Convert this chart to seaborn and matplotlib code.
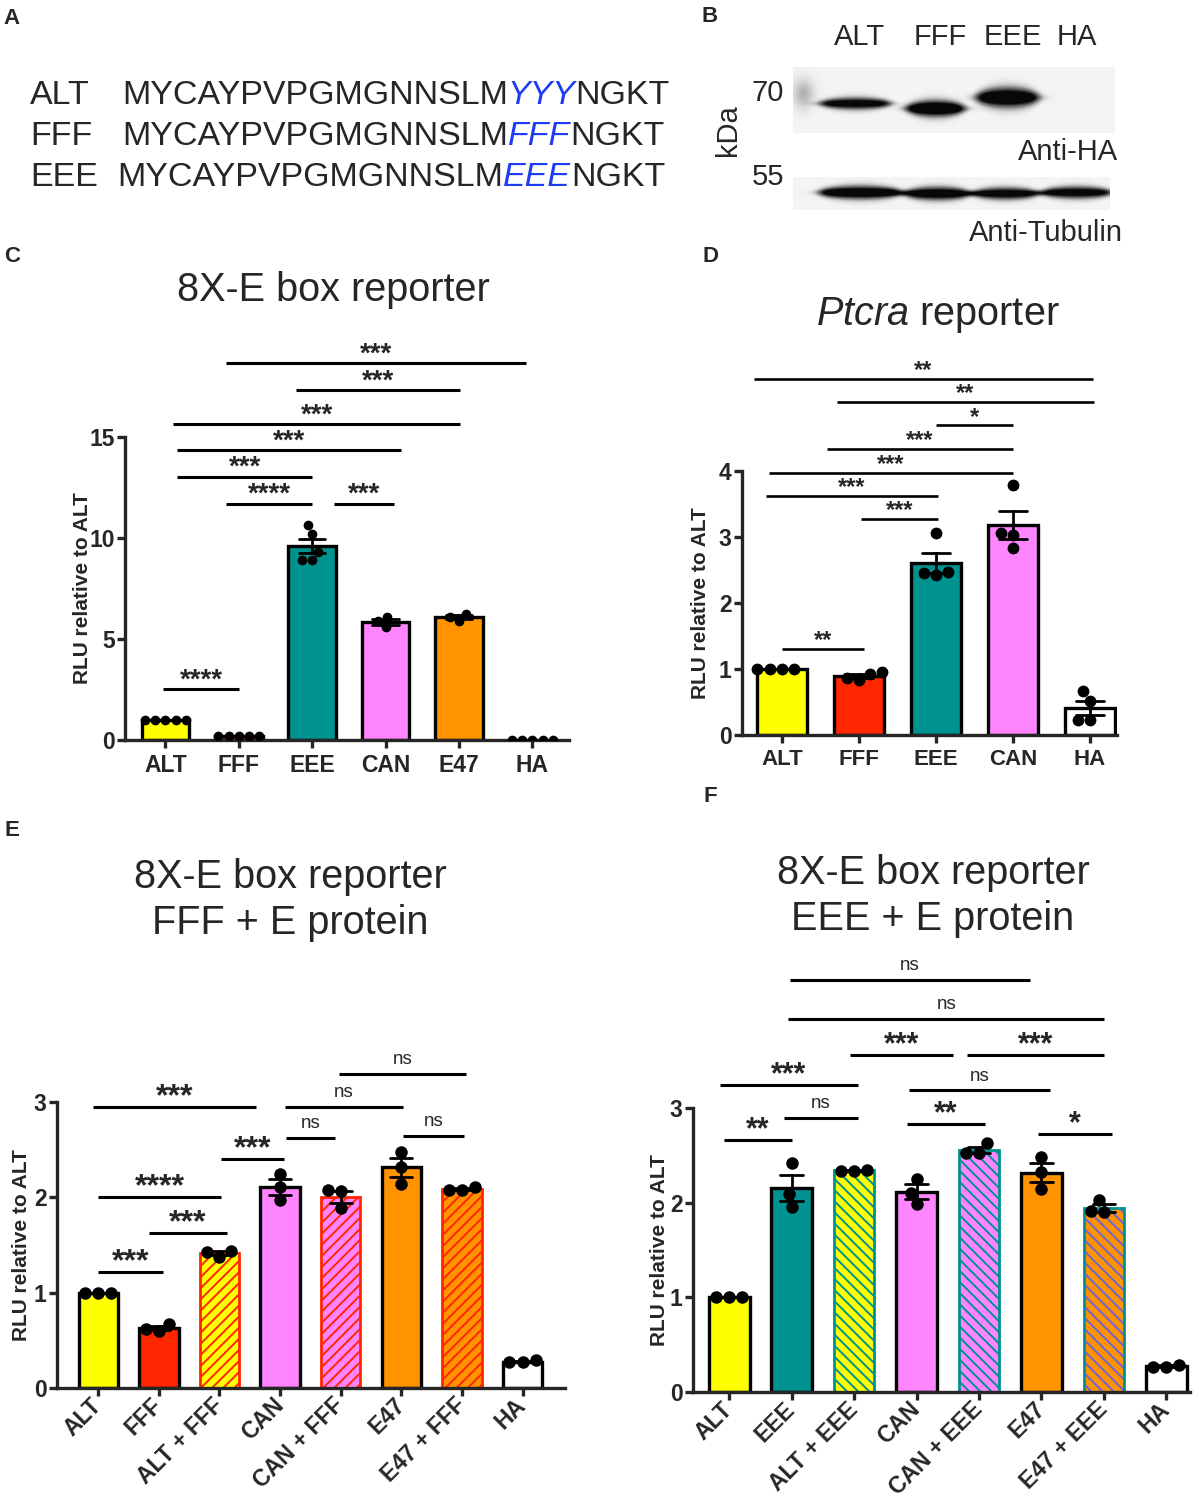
import numpy as np
import pandas as pd
import seaborn as sns
import matplotlib.pyplot as plt
from matplotlib.patches import Rectangle

W, H = 1199, 1502

# ---- panel B: blot band strengths (ALT, FFF, EEE, HA) ----
blot_lanes = ['ALT', 'FFF', 'EEE', 'HA']
anti_ha_strength = [1.05, 1.25, 1.2, 0.0]
tubulin_strength = [1.15, 1.1, 1.05, 1.05]

# ---- panel C ----
c_groups = ['ALT', 'FFF', 'EEE', 'CAN', 'E47', 'HA']
c_points = [
    [1.0, 1.0, 1.0, 1.0, 1.0],
    [0.21, 0.19, 0.20, 0.22, 0.20],
    [10.65, 10.22, 8.93, 9.33, 8.93],
    [6.10, 5.57, 5.90],
    [5.90, 6.26, 6.09],
    [0.02, 0.01, 0.02, 0.01, 0.02],
]
c_colors = ['#FFFF00', '#FF2600', '#00928F', '#FF85FF', '#FF9300', '#FFFFFF']
c_sig = [
    (0.83, 4.91, 18.64, '***'),
    (1.78, 4.01, 17.31, '***'),
    (0.11, 4.02, 15.63, '***'),
    (0.16, 3.21, 14.34, '***'),
    (0.16, 2.00, 13.04, '***'),
    (0.83, 2.00, 11.70, '****'),
    (2.30, 3.12, 11.70, '***'),
    (-0.03, 1.00, 2.52, '****'),
]

# ---- panel D ----
d_groups = ['ALT', 'FFF', 'EEE', 'CAN', 'HA']
d_points = [
    [1.0, 1.0, 1.0, 1.0],
    [0.84, 0.95, 0.87, 0.92],
    [3.06, 2.43, 2.47, 2.45],
    [3.79, 3.06, 3.03, 2.84],
    [0.51, 0.66, 0.23, 0.23],
]
d_colors = ['#FFFF00', '#FF2600', '#00928F', '#FF85FF', '#FFFFFF']
d_sig = [
    (-0.37, 4.04, 5.40, '**'),
    (0.71, 4.05, 5.05, '**'),
    (2.00, 3.00, 4.69, '*'),
    (0.58, 3.00, 4.34, '***'),
    (-0.17, 3.00, 3.97, '***'),
    (-0.21, 2.03, 3.62, '***'),
    (1.02, 2.03, 3.27, '***'),
    (0.00, 1.06, 1.31, '**'),
]

# ---- panel E ----
e_groups = ['ALT', 'FFF', 'ALT + FFF', 'CAN', 'CAN + FFF', 'E47', 'E47 + FFF', 'HA']
e_points = [
    [1.0, 1.0, 1.0],
    [0.593, 0.673, 0.617],
    [1.378, 1.440, 1.423],
    [2.25, 2.11, 1.97],
    [2.075, 2.065, 1.883],
    [2.476, 2.320, 2.145],
    [2.075, 2.110, 2.075],
    [0.269, 0.290, 0.269],
]
e_colors = ['#FFFF00', '#FF2600', '#FFFF00', '#FF85FF', '#FF85FF', '#FF9300', '#FF9300', '#FFFFFF']
e_hatch = {2: '#FF2600', 4: '#FF2600', 6: '#FF2600'}
e_sig = [
    (-0.09, 2.60, 2.947, '***'),
    (3.08, 5.03, 2.947, 'ns'),
    (3.98, 6.07, 3.296, 'ns'),
    (3.10, 3.90, 2.626, 'ns'),
    (5.03, 6.03, 2.647, 'ns'),
    (2.03, 3.06, 2.40, '***'),
    (0.00, 2.02, 2.006, '****'),
    (0.83, 2.12, 1.622, '***'),
    (0.00, 1.07, 1.221, '***'),
]

# ---- panel F ----
f_groups = ['ALT', 'EEE', 'ALT + EEE', 'CAN', 'CAN + EEE', 'E47', 'E47 + EEE', 'HA']
f_points = [
    [1.0, 1.0, 1.0],
    [2.415, 2.087, 1.957],
    [2.337, 2.348, 2.337],
    [2.255, 2.106, 1.987],
    [2.523, 2.628, 2.523],
    [2.479, 2.329, 2.143],
    [1.900, 2.024, 1.912],
    [0.268, 0.287, 0.268],
]
f_colors = ['#FFFF00', '#00928F', '#FFFF00', '#FF85FF', '#FF85FF', '#FF9300', '#FF9300', '#FFFFFF']
f_hatch = {2: '#00928F', 4: '#00928F', 6: '#6F63D8'}
f_sig = [
    (0.97, 4.82, 4.353, 'ns'),
    (0.94, 6.01, 3.943, 'ns'),
    (1.94, 3.58, 3.559, '***'),
    (3.81, 6.00, 3.559, '***'),
    (-0.15, 2.06, 3.243, '***'),
    (0.87, 2.06, 2.896, 'ns'),
    (-0.09, 1.01, 2.665, '**'),
    (2.88, 5.14, 3.187, 'ns'),
    (2.84, 4.10, 2.833, '**'),
    (4.94, 6.13, 2.721, '*'),
]

sns.set_theme(style='ticks')
plt.rcParams['font.family'] = ['Liberation Sans', 'DejaVu Sans']
plt.rcParams['mathtext.fontset'] = 'custom'
plt.rcParams['mathtext.rm'] = 'Liberation Sans'
plt.rcParams['mathtext.it'] = 'Liberation Sans:italic'
plt.rcParams['hatch.linewidth'] = 1.4
plt.rcParams['ytick.labelsize'] = 16.5
plt.rcParams['xtick.labelsize'] = 16.5

fig = plt.figure(figsize=(W / 100, H / 100), dpi=100)


def px_axes(x0, y_top, x1, y_bot):
    return fig.add_axes([x0 / W, 1 - y_bot / H, (x1 - x0) / W, (y_bot - y_top) / H])


def ftext(x, y, s, **kw):
    return fig.text(x / W, 1 - y / H, s, **kw)


def bar_panel(ax, groups, points, colors, dot_size, xlim, yticks, label_x,
              hatch=None, hatch_style='///', edge=None, rotate=False):
    df = pd.DataFrame({'group': np.repeat(groups, [len(p) for p in points]),
                       'value': np.concatenate(points)})
    sns.barplot(data=df, x='group', y='value', hue='group', order=groups, hue_order=groups,
                palette=dict(zip(groups, colors)), saturation=1, errorbar='se', capsize=0.36,
                err_kws={'color': 'black', 'linewidth': 2.0}, width=0.65,
                edgecolor='black', linewidth=2.4, legend=False, ax=ax)
    if hatch:
        bars = list(ax.patches)
        for i, col in hatch.items():
            p = bars[i]
            p.set_hatch(hatch_style)
            p.set_edgecolor(col)
            p.set_linewidth(0)
            ax.add_patch(Rectangle((p.get_x(), p.get_y()), p.get_width(), p.get_height(),
                                   fill=False, edgecolor=edge, linewidth=2.0, zorder=1.5))
    sns.swarmplot(data=df, x='group', y='value', order=groups, color='black',
                  size=dot_size, ax=ax, zorder=4)
    ax.set_xlim(*xlim)
    ax.set_ylim(yticks[0], yticks[-1])
    ax.set_yticks(yticks, labels=[str(t) for t in yticks])
    ax.set_xticks(range(len(groups)))
    if rotate:
        ax.set_xticklabels(groups, rotation=45, ha='right', va='center',
                           rotation_mode='anchor')
    else:
        ax.set_xticklabels(groups)
    sns.despine(ax=ax)
    for s in ['left', 'bottom']:
        ax.spines[s].set_linewidth(2.4)
    ax.tick_params(axis='both', width=2.4, length=6)
    ax.tick_params(axis='y', pad=1.5)
    ax.tick_params(axis='x', pad=4)
    ax.set_xlabel('')
    ax.set_ylabel('RLU relative to ALT', fontsize=15, fontweight='bold')
    ax.yaxis.set_label_coords(label_x, 0.5)


def bold_ticks(ax, xsize):
    for lab in ax.get_yticklabels():
        lab.set_fontsize(16.5)
        lab.set_fontweight('bold')
    for lab in ax.get_xticklabels():
        lab.set_fontsize(xsize)
        lab.set_fontweight('bold')


def sig_bars(ax, sig, star_size, lw=2.2):
    for x0, x1, y, lab in sig:
        ax.plot([x0, x1], [y, y], color='black', lw=lw, clip_on=False, solid_capstyle='butt')
        if lab == 'ns':
            ax.annotate(lab, ((x0 + x1) / 2, y), xytext=(0, 7), textcoords='offset points',
                        ha='center', va='baseline', fontsize=13.5, annotation_clip=False)
        else:
            ax.annotate(lab, ((x0 + x1) / 2, y), xytext=(0, 1.2), textcoords='offset points',
                        ha='center', va='baseline', fontsize=star_size, fontweight='bold',
                        annotation_clip=False)


# ---- panel letters ----
for lab, x, y in [('A', 12, 18), ('B', 710, 16), ('C', 12, 256), ('D', 710, 257),
                  ('E', 12, 831), ('F', 710, 796)]:
    ftext(x, y, lab, fontsize=16, fontweight='bold', ha='center', va='center')

# ---- panel A: sequences ----
seq_rows = [('ALT', 'MYCAYPVPGMGNNSLM', 'YYY', 'NGKT', 122, 104),
            ('FFF', 'MYCAYPVPGMGNNSLM', 'FFF', 'NGKT', 122, 145),
            ('EEE', 'MYCAYPVPGMGNNSLM', 'EEE', 'NGKT', 117, 186)]
for name, pre, mut, post, x_seq, y_base in seq_rows:
    ftext(30, y_base, name, fontsize=24.5, va='baseline')
    t1 = ftext(x_seq, y_base, pre, fontsize=24.5, va='baseline')
    t2 = fig.add_artist(plt.Annotation(mut, xy=(1, 0), xycoords=t1, va='bottom', ha='left',
                                       fontsize=24.5, fontstyle='italic', color='#1F3CF5'))
    fig.add_artist(plt.Annotation(post, xy=(1, 0), xycoords=t2, va='bottom', ha='left',
                                  fontsize=24.5))


# ---- panel B: blot ----
def draw_blot(ax, width, height, lane_x, lane_w, band_y, band_sd, strength, smear=False):
    yy, xx = np.mgrid[0:height, 0:width].astype(float)
    img = np.full((height, width), 0.09)
    for cx, w, cy, sd, s in zip(lane_x, lane_w, band_y, band_sd, strength):
        taper = 1.0 - 0.45 * ((xx - cx) / (w / 2)) ** 2
        px = 1.0 / (1.0 + np.exp((np.abs(xx - cx) - w / 2) / 4.0))
        py = np.exp(-0.5 * ((yy - cy) / (sd * np.clip(taper, 0.35, 1))) ** 2)
        img = img + s * px * py
    if smear:
        img = img + 0.33 * np.exp(-0.5 * ((xx - 10) / 8) ** 2) * np.exp(-0.5 * ((yy - 26) / 11) ** 2)
    ax.imshow(np.clip(img, 0, 0.97), cmap='Greys', vmin=0, vmax=1, aspect='auto',
              interpolation='bilinear')
    ax.axis('off')


ax_b1 = px_axes(793, 67, 1115, 133)
draw_blot(ax_b1, 322, 66, [62, 142, 214, 284], [70, 58, 62, 60], [36, 41, 30, 34],
          [4.5, 6.0, 7.5, 6.0], anti_ha_strength, smear=True)
ax_b2 = px_axes(793, 177, 1110, 210)
draw_blot(ax_b2, 317, 33, [67, 144, 212, 283], [82, 66, 66, 70], [15, 16, 16, 15],
          [5.0, 5.0, 4.6, 4.6], tubulin_strength)

for name, x in zip(blot_lanes, [860, 940, 1013, 1077]):
    ftext(x, 37, name, fontsize=21, ha='center', va='center')
ftext(768, 93, '70', fontsize=21, ha='center', va='center')
ftext(768, 177, '55', fontsize=21, ha='center', va='center')
ftext(728, 130, 'kDa', fontsize=21, ha='center', va='center', rotation=90)
ftext(1118, 152, 'Anti-HA', fontsize=21, ha='right', va='center')
ftext(1123, 233, 'Anti-Tubulin', fontsize=21, ha='right', va='center')

# ---- panel C ----
ax_c = px_axes(125, 437, 569, 740)
bar_panel(ax_c, c_groups, c_points, c_colors, 7, (-0.55, 5.5), [0, 5, 10, 15], -0.074)
sig_bars(ax_c, c_sig, 20)
ftext(333, 290, '8X-E box reporter', fontsize=28.5, ha='center', va='center')

# ---- panel D ----
ax_d = px_axes(742, 471, 1117, 735)
bar_panel(ax_d, d_groups, d_points, d_colors, 8.5, (-0.52, 4.35), [0, 1, 2, 3, 4], -0.085)
sig_bars(ax_d, d_sig, 17, lw=1.9)
ftext(938, 315, r'$\mathit{Ptcra}$ reporter', fontsize=28.5, ha='center', va='center')

# ---- panel E ----
ax_e = px_axes(57, 1102, 565, 1388)
bar_panel(ax_e, e_groups, e_points, e_colors, 9, (-0.68, 7.7), [0, 1, 2, 3], -0.051,
          hatch=e_hatch, hatch_style='///', edge='#FF2600', rotate=True)
sig_bars(ax_e, e_sig, 23)
ftext(290, 900, '8X-E box reporter\nFFF + E protein', fontsize=28.5, ha='center',
      va='center', linespacing=1.25)

# ---- panel F ----
ax_f = px_axes(693, 1108, 1190, 1392)
bar_panel(ax_f, f_groups, f_points, f_colors, 9, (-0.58, 7.38), [0, 1, 2, 3], -0.048,
          hatch=f_hatch, hatch_style='\\\\\\', edge='#00928F', rotate=True)
sig_bars(ax_f, f_sig, 22)
ftext(933, 896, '8X-E box reporter\nEEE + E protein', fontsize=28.5, ha='center',
      va='center', linespacing=1.25)

# tick labels are styled after a first draw so the final tick objects keep it
fig.canvas.draw()
bold_ticks(ax_c, 16.5)
bold_ticks(ax_d, 16)
bold_ticks(ax_e, 16.5)
bold_ticks(ax_f, 16.5)

fig.savefig('out.png', dpi=100)
